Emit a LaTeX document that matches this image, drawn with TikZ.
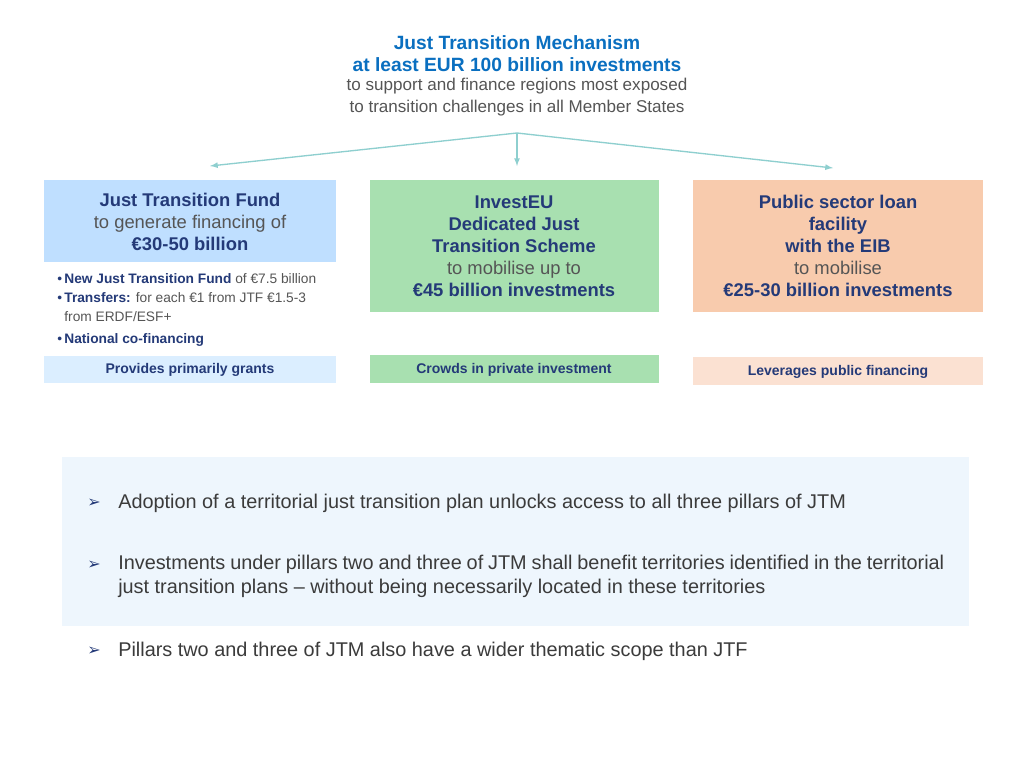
\documentclass[tikz,border=0pt]{standalone}
\usepackage{fontspec}
\setmainfont{Liberation Sans}
\newfontfamily\symf{DejaVu Sans}
\begin{document}
\begin{tikzpicture}[x=0.75pt,y=-0.75pt]
\definecolor{ttl}{HTML}{0A6FC0}
\definecolor{nv}{HTML}{243A78}
\definecolor{gr}{HTML}{555555}
\definecolor{bl}{HTML}{BFDFFF}
\definecolor{bll}{HTML}{DBEEFF}
\definecolor{gn}{HTML}{A8E0B0}
\definecolor{or}{HTML}{F8CBAD}
\definecolor{orl}{HTML}{FBE1D2}
\definecolor{pan}{HTML}{EEF6FD}
\definecolor{ar}{HTML}{8ECFCF}
\tikzset{boxtxt/.style={align=center,inner sep=0pt,font=\fontsize{13.8}{16.5}\selectfont},
  bar/.style={inner sep=0pt,font=\fontsize{10.5}{12}\selectfont\bfseries,text=nv},
  btxt/.style={inner sep=0pt,font=\fontsize{14.9}{17.5}\selectfont,text=gr!70!black},
  barr/.style={anchor=west,inner sep=0pt,font=\symf\fontsize{12}{14}\selectfont,text=nv},
  conn/.style={draw=ar,line width=1pt,-latex}}
\useasboundingbox (0,0) rectangle (1024,768);
\fill[white] (0,0) rectangle (1024,768);
\node[align=center,inner sep=0pt,font=\fontsize{14.4}{16.5}\selectfont] (top) at (517,54) {%
 \bfseries\color{ttl}Just Transition Mechanism\\
 \bfseries\color{ttl}at least EUR 100 billion investments};
\node[align=center,inner sep=0pt,font=\fontsize{12.8}{16}\selectfont,text=gr] (sub) at (517,97) {%
 to support and finance regions most exposed\\ to transition challenges in all Member States};
\coordinate (hub) at (517,133);
\coordinate (tl) at (210,166);
\coordinate (tm) at (517,166);
\coordinate (tr) at (833,168);
\draw[conn] (hub) -- (tl);
\draw[conn] (hub) -- (tm);
\draw[conn] (hub) -- (tr);
\fill[bl] (44,180) rectangle (336,262);
\node[boxtxt] (jtf) at (190,222) {%
 \color{nv}\bfseries Just Transition Fund\\
 \color{gr}to generate financing of\\
 \color{nv}\bfseries €30-50 billion};
\fill[gn] (370,180) rectangle (659,312);
\node[boxtxt] (inv) at (514,246) {%
 \color{nv}\bfseries InvestEU\\
 \color{nv}\bfseries Dedicated Just\\
 \color{nv}\bfseries Transition Scheme\\
 \color{gr}to mobilise up to\\
 \color{nv}\bfseries €45 billion investments};
\fill[or] (693,180) rectangle (983,312);
\node[boxtxt] (eib) at (838,246) {%
 \color{nv}\bfseries Public sector loan\\
 \color{nv}\bfseries facility\\
 \color{nv}\bfseries with the EIB\\
 \color{gr}to mobilise\\
 \color{nv}\bfseries €25-30 billion investments};
\node[anchor=north west,align=left,inner sep=0pt,font=\fontsize{10.3}{14.5}\selectfont,text=gr] (bul) at (57,273) {%
 {\color{nv}\textbullet\,\textbf{New Just Transition Fund}} of €7.5 billion\\
 {\color{nv}\textbullet\,\textbf{Transfers:}} for each €1 from JTF €1.5-3\\
 \hphantom{\textbullet\,}from ERDF/ESF+\\[2pt]
 {\color{nv}\textbullet\,\textbf{National co-financing}}};
\fill[bll] (44,356) rectangle (336,383);
\node[bar] (g1) at (190,370) {Provides primarily grants};
\fill[gn] (370,355) rectangle (659,383);
\node[bar] (g2) at (514,370) {Crowds in private investment};
\fill[orl] (693,357) rectangle (983,385);
\node[bar] (g3) at (838,372) {Leverages public financing};
\fill[pan] (62,457) rectangle (969,626);
\node[barr] (b1a) at (87,503) {➢};
\node[btxt,anchor=west] (b1) at (118,503) {Adoption of a territorial just transition plan unlocks access to all three pillars of JTM};
\node[barr] (b2a) at (87,565) {➢};
\node[btxt,anchor=north west,text width=826*0.75pt,align=justify] (b2) at (118,555) {Investments under pillars two and three of JTM shall benefit territories identified in the territorial just transition plans -- without being necessarily located in these territories};
\node[barr] (b3a) at (87,651) {➢};
\node[btxt,anchor=west] (b3) at (118,651) {Pillars two and three of JTM also have a wider thematic scope than JTF};
\end{tikzpicture}
\end{document}
